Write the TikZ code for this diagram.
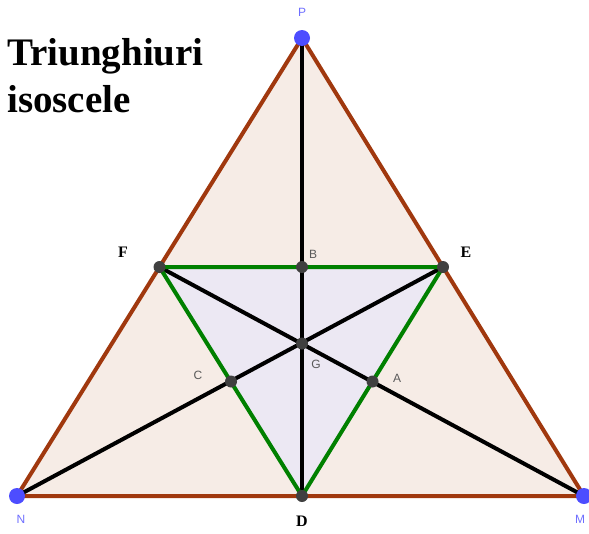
\documentclass[tikz,border=0pt]{standalone}
\usepackage{fontspec}
\setmainfont{Liberation Serif}
\setsansfont{Liberation Sans}
\definecolor{brownline}{RGB}{160,56,14}
\definecolor{greenline}{RGB}{0,128,0}
\definecolor{outerfill}{RGB}{246,236,230}
\definecolor{innerfill}{RGB}{236,232,243}
\definecolor{bluept}{RGB}{77,77,255}
\definecolor{graypt}{RGB}{64,64,64}
\definecolor{graytxt}{RGB}{90,90,90}
\definecolor{bluetxt}{RGB}{110,110,255}
\begin{document}
\begin{tikzpicture}[x=1pt,y=-1pt,
  bluedot/.style={circle,fill=bluept,inner sep=0pt,minimum size=16pt},
  graydot/.style={circle,fill=graypt,inner sep=0pt,minimum size=12pt},
  smalllab/.style={font=\sffamily\fontsize{12}{12}\selectfont,text=graytxt},
  bluelab/.style={font=\sffamily\fontsize{12}{12}\selectfont,text=bluetxt},
  boldlab/.style={font=\bfseries\fontsize{16}{16}\selectfont},
  seg/.style={line width=4pt,line cap=round}]
\useasboundingbox (0,0) rectangle (589,533);
\coordinate (P) at (302,38);
\coordinate (N) at (17,496);
\coordinate (M) at (584,496);
\coordinate (D) at (302,496);
\coordinate (F) at (159.5,267);
\coordinate (E) at (443,267);
\coordinate (B) at (302,267);
\coordinate (G) at (302,343.5);
\coordinate (C) at (231,381.5);
\coordinate (A) at (372.5,381.5);
\fill[outerfill] (P) -- (N) -- (M) -- cycle;
\fill[innerfill] (F) -- (E) -- (D) -- cycle;
\draw[seg,black] (P) -- (D);
\draw[seg,black] (F) -- (M);
\draw[seg,black] (E) -- (N);
\draw[seg,greenline,line join=round] (F) -- (E) -- (D) -- cycle;
\draw[seg,brownline,line join=round] (P) -- (N) -- (M) -- cycle;
\node[bluedot] (nP) at (P) {};
\node[bluedot] (nN) at (N) {};
\node[bluedot] (nM) at (M) {};
\foreach \p in {D,F,E,B,G,C,A} {\node[graydot] (n\p) at (\p) {};}
\node[bluelab] at (302,12) {P};
\node[bluelab] at (21,519) {N};
\node[bluelab] at (580,519) {M};
\node[boldlab] at (302,521) {D};
\node[boldlab] at (123,252) {F};
\node[boldlab] at (466,252) {E};
\node[smalllab] at (313,254) {B};
\node[smalllab] at (316,364) {G};
\node[smalllab] at (198,375) {C};
\node[smalllab] at (397,378) {A};
\node[anchor=base west,font=\bfseries\fontsize{39}{39}\selectfont,inner sep=0pt] at (7,65) {Triunghiuri};
\node[anchor=base west,font=\bfseries\fontsize{39}{39}\selectfont,inner sep=0pt] at (7,112) {isoscele};
\end{tikzpicture}
\end{document}
